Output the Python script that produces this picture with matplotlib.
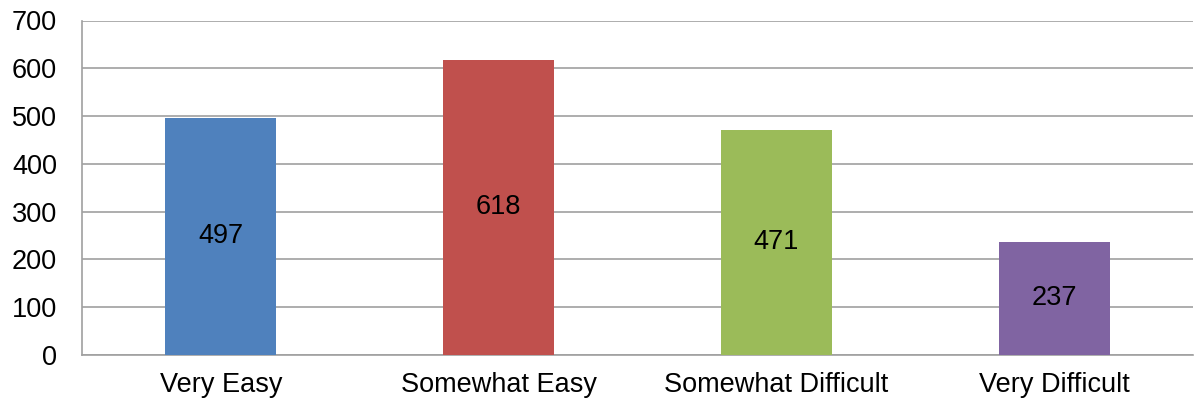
import numpy as np
import matplotlib.pyplot as plt

plt.rcParams['font.family'] = ['Liberation Sans', 'DejaVu Sans']

# data
categories = ['Very Easy', 'Somewhat Easy', 'Somewhat Difficult', 'Very Difficult']
counts = [497, 618, 471, 237]
colors = ['#4F81BD', '#C0504D', '#9BBB59', '#8064A2']

fig = plt.figure(figsize=(11.94, 4.03), dpi=100)
ax = fig.add_axes([82 / 1194, 1 - 355 / 403, 1111 / 1194, 334.5 / 403])

x = np.arange(len(categories))
bars = ax.bar(x, counts, width=0.4, color=colors, zorder=3)

for b, v in zip(bars, counts):
    ax.text(b.get_x() + b.get_width() / 2, v / 2, str(v),
            ha='center', va='center', fontsize=19.5, color='black', zorder=4)

ax.set_xlim(-0.5, len(categories) - 0.5)
ax.set_ylim(0, 700)
ax.set_yticks(np.arange(0, 701, 100))
ax.set_xticks(x)
ax.set_xticklabels(categories, fontsize=19.5)
ax.tick_params(axis='y', labelsize=19.5, length=0, pad=18)
ax.tick_params(axis='x', length=0, pad=12)

ax.yaxis.grid(True, color='#A0A0A0', linewidth=1.2, zorder=0)
for s in ['top', 'right']:
    ax.spines[s].set_visible(False)
ax.spines['left'].set_color('#A0A0A0')
ax.spines['bottom'].set_color('#A0A0A0')
ax.spines['left'].set_linewidth(1.2)
ax.spines['bottom'].set_linewidth(1.2)

fig.savefig('out.png', dpi=100)
